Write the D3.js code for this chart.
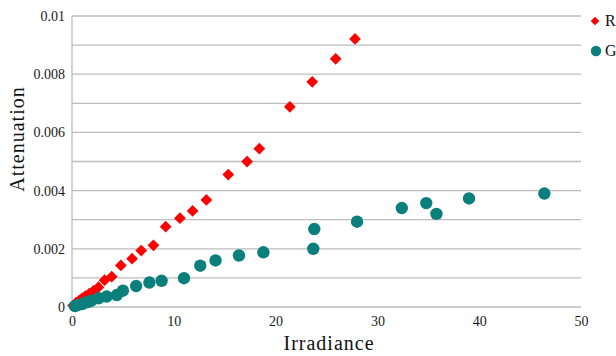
<!DOCTYPE html>
<html><head><meta charset="utf-8">
<script src="https://cdn.jsdelivr.net/npm/d3@7"></script>
<style>body{margin:0;background:#fff}svg{display:block}svg text{font-family:'Liberation Serif','Times New Roman',serif}</style>
</head><body><svg id="c" width="616" height="356"></svg>
<script>
const xTicks = [0, 10, 20, 30, 40, 50];
const yTicks = [0, 0.002, 0.004, 0.006, 0.008, 0.01];
const yTickLabels = ["0", "0.002", "0.004", "0.006", "0.008", "0.01"];
const seriesNames = ["R", "G"];
const rX = [0.1,0.4,0.7,1.0,1.3,1.7,2.1,2.6,3.2,3.9,4.8,5.9,6.8,8.0,9.2,10.6,11.85,13.2,15.35,17.2,18.4,21.4,23.6,25.9,27.8];
const rY = [0.00005,0.00015,0.00022,0.0003,0.00037,0.00046,0.00055,0.00068,0.00092,0.00104,0.00143,0.00166,0.00194,0.00212,0.00276,0.00305,0.0033,0.00368,0.00455,0.005,0.00544,0.00688,0.00774,0.00853,0.00921];
const gX = [0.3,0.6,1.0,1.3,1.6,1.9,2.6,3.4,4.4,5.0,6.3,7.6,8.8,11.0,12.6,14.1,16.4,18.8,23.7,23.8,28.0,32.4,34.8,35.8,39.0,46.4];
const gY = [0.00003,0.00007,0.0001,0.00015,0.00018,0.00022,0.0003,0.00036,0.00041,0.00056,0.00072,0.00084,0.0009,0.00099,0.00142,0.0016,0.00177,0.00188,0.002,0.00268,0.00293,0.0034,0.00357,0.0032,0.00373,0.0039];

const svg = d3.select("#c");
const x = d3.scaleLinear().domain([0, 50]).range([72, 581]);
const y = d3.scaleLinear().domain([0, 0.01]).range([307, 16]);
const serif = "'Liberation Serif','Times New Roman',serif";
const red = "#ff0000", teal = "#0a7f7b";

// gridlines every 0.001
svg.append("g").selectAll("line").data(d3.range(0, 11).map(i => i * 0.001)).join("line")
  .attr("x1", x(0)).attr("x2", x(50))
  .attr("y1", d => y(d)).attr("y2", d => y(d))
  .attr("stroke", "#bdbdbd").attr("stroke-width", 1.3);
svg.append("line").attr("x1", x(0)).attr("x2", x(0)).attr("y1", y(0)).attr("y2", y(0.01))
  .attr("stroke", "#bdbdbd").attr("stroke-width", 1.3);

// y axis labels
const yAxis = d3.axisLeft(y).tickValues(yTicks).tickFormat((d, i) => yTickLabels[i]).tickSize(0).tickPadding(7);
const gy = svg.append("g").attr("transform", `translate(${x(0)},0)`).call(yAxis)
  .attr("font-family", serif).attr("font-size", 14);
gy.select(".domain").remove();
gy.selectAll("text").style("font-family", serif).style("font-size", "14px").attr("fill", "#1a1a1a");

const xAxis = d3.axisBottom(x).tickValues(xTicks).tickFormat(d3.format("d")).tickSize(0).tickPadding(9);
const gx = svg.append("g").attr("transform", `translate(0,${y(0)})`).call(xAxis)
  .attr("font-family", serif).attr("font-size", 14);
gx.select(".domain").remove();
gx.selectAll("text").style("font-family", serif).style("font-size", "14px").attr("fill", "#1a1a1a");

// R diamonds
const diamond = d3.symbol().type(d3.symbolDiamond2).size(88);
svg.append("g").selectAll("path").data(rX.map((v, i) => [v, rY[i]])).join("path")
  .attr("d", diamond).attr("transform", d => `translate(${x(d[0])},${y(d[1])})`)
  .attr("fill", red);
// G circles
svg.append("g").selectAll("circle").data(gX.map((v, i) => [v, gY[i]])).join("circle")
  .attr("cx", d => x(d[0])).attr("cy", d => y(d[1])).attr("r", 6.2).attr("fill", teal);

// axis titles
svg.append("text").attr("x", 329).attr("y", 350).attr("text-anchor", "middle")
  .style("font-size", "20px").attr("letter-spacing", 1).attr("fill", "#111").text("Irradiance");
svg.append("text").attr("transform", "translate(24,139) rotate(-90)").attr("text-anchor", "middle")
  .style("font-size", "20px").attr("letter-spacing", 1).attr("fill", "#111").text("Attenuation");

// legend
const lg = svg.append("g");
lg.append("path").attr("d", d3.symbol().type(d3.symbolDiamond2).size(48)).attr("transform", "translate(595,21)").attr("fill", red);
lg.append("circle").attr("cx", 596).attr("cy", 51).attr("r", 5.2).attr("fill", teal);
lg.selectAll("text").data(seriesNames).join("text")
  .attr("x", 605).attr("y", (d, i) => 26 + i * 30)
  .style("font-size", "16px").attr("fill", "#111").text(d => d);
</script></body></html>
